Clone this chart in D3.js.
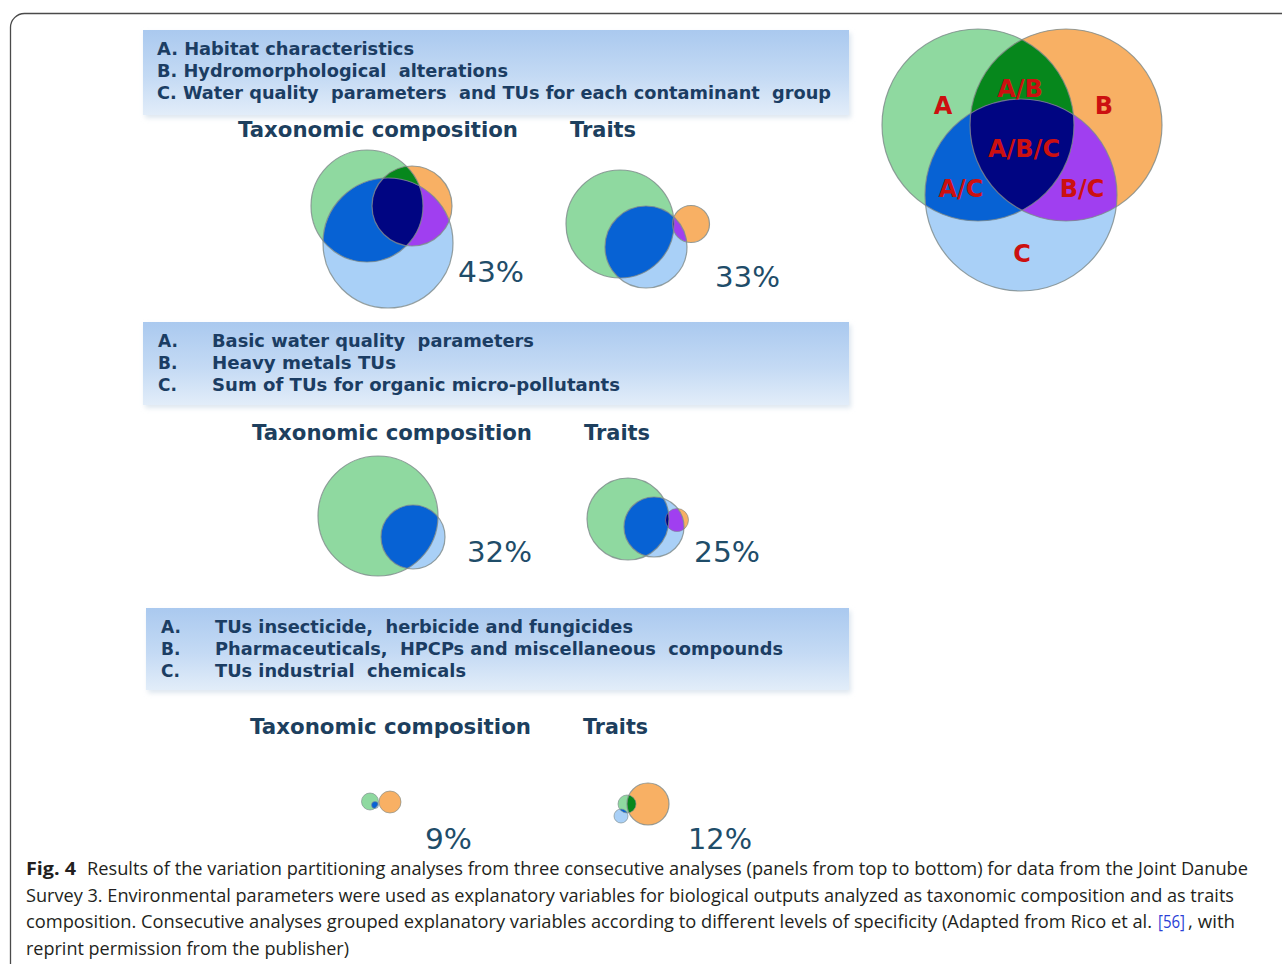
<!DOCTYPE html>
<html>
<head>
<meta charset="utf-8">
<script src="https://cdn.jsdelivr.net/npm/d3@7/dist/d3.min.js"></script>
<style>
  body { margin: 0; background: #fff; }
  svg { display: block; }
</style>
</head>
<body>
<svg id="fig"></svg>
<script>
    const svg_width = 1282;
    const svg_height = 964;

    // ---- data ----
    var setNames = ["A", "B", "C"];

    var panel1Legend = ["A. Habitat characteristics",
                        "B. Hydromorphological  alterations",
                        "C. Water quality  parameters  and TUs for each contaminant  group"];
    var letters = ["A.", "B.", "C."];
    var panel2Legend = ["Basic water quality  parameters",
                        "Heavy metals TUs",
                        "Sum of TUs for organic micro-pollutants"];
    var panel3Legend = ["TUs insecticide,  herbicide and fungicides",
                        "Pharmaceuticals,  HPCPs and miscellaneous  compounds",
                        "TUs industrial  chemicals"];
    var columnTitles = ["Taxonomic composition", "Traits"];
    var percentLabels = ["43%", "33%", "32%", "25%", "9%", "12%"];

    // circles of each diagram, local units (px) around the diagram origin
    var tax1Circles = [{set: "A", x: -13, y: -24, r: 56},
                       {set: "B", x: 32, y: -24, r: 40},
                       {set: "C", x: 8, y: 13, r: 65}];
    var traits1Circles = [{set: "A", x: -20, y: -6, r: 54},
                          {set: "B", x: 51, y: -6, r: 18.5},
                          {set: "C", x: 6, y: 17, r: 41}];
    var tax2Circles = [{set: "A", x: -12, y: -4, r: 60},
                       {set: "C", x: 23, y: 17, r: 32}];
    var traits2Circles = [{set: "A", x: -12, y: -1, r: 41},
                          {set: "B", x: 37, y: 0, r: 11.5},
                          {set: "C", x: 14, y: 7, r: 30}];
    var tax3Circles = [{set: "A", x: -10, y: 1.5, r: 8.5},
                       {set: "B", x: 10, y: 2, r: 11},
                       {set: "C", x: -5, y: 5, r: 3.5}];
    var traits3Circles = [{set: "A", x: -13, y: 4, r: 9},
                          {set: "B", x: 8, y: 4, r: 21},
                          {set: "C", x: -19, y: 16, r: 7}];
    var keyCircles = [{set: "A", x: -44, y: -25, r: 96},
                      {set: "B", x: 44, y: -25, r: 96},
                      {set: "C", x: -1, y: 45, r: 96}];
    var keyLabels = ["A", "A/B", "B", "A/B/C", "A/C", "B/C", "C"];

    var figLabel = "Fig. 4";
    var captionLines = [
      "Results of the variation partitioning analyses from three consecutive analyses (panels from top to bottom) for data from the Joint Danube",
      "Survey 3. Environmental parameters were used as explanatory variables for biological outputs analyzed as taxonomic composition and as traits",
      "composition. Consecutive analyses grouped explanatory variables according to different levels of specificity (Adapted from Rico et al.",
      "reprint permission from the publisher)"
    ];
    var citeRef = "[56]";
    var citeTail = ", with";

    // ---- colours ----
    var fill = {A: "#8fd9a0", B: "#f8b064", C: "#a9d0f7",
                AB: "#06871c", AC: "#0762d4", BC: "#a03ff0", ABC: "#000582"};
    var textBlue = "#1b3d63";

    // ---- layout ----
    var boxes = [{x: 143, y: 30, w: 706, h: 85, lines: panel1Legend, tx: 157, bx: null, base: 55,
                  widths: [257, 351, 674]},
                 {x: 143, y: 322, w: 706, h: 83, lines: panel2Legend, tx: 158, bx: 212, base: 347,
                  widths: [322, 184, 408]},
                 {x: 146, y: 608, w: 703, h: 82, lines: panel3Legend, tx: 161, bx: 215, base: 633,
                  widths: [418, 568, 251]}];
    var titleRows = [{y: 137, tax: [238, 280], traits: [570, 66]},
                     {y: 440, tax: [252, 280], traits: [584, 66]},
                     {y: 734, tax: [250, 281], traits: [583, 65]}];
    var diagrams = [{id: "t1", circles: tax1Circles, ox: 380, oy: 230, label: [458, 282, 66]},
                    {id: "r1", circles: traits1Circles, ox: 640, oy: 230, label: [715, 287, 65]},
                    {id: "t2", circles: tax2Circles, ox: 390, oy: 520, label: [467, 562, 65]},
                    {id: "r2", circles: traits2Circles, ox: 640, oy: 520, label: [694, 562, 66]},
                    {id: "t3", circles: tax3Circles, ox: 380, oy: 800, label: [425, 849, 47]},
                    {id: "r3", circles: traits3Circles, ox: 640, oy: 800, label: [688, 849, 64]},
                    {id: "key", circles: keyCircles, ox: 1022, oy: 150, label: null}];
    var keyLabelPos = [[-79, -44], [-2, -61], [82, -44], [2, -1], [-61, 39], [60, 39], [0, 104]];

    var svg = d3.select("svg#fig")
        .attr("width", svg_width)
        .attr("height", svg_height);

    var defs = svg.append("defs");
    var grad = defs.append("linearGradient")
        .attr("id", "boxfill")
        .attr("x1", 0).attr("y1", 0).attr("x2", 0).attr("y2", 1);
    grad.append("stop").attr("offset", "0%").attr("stop-color", "#aac9ef");
    grad.append("stop").attr("offset", "55%").attr("stop-color", "#c4daf4");
    grad.append("stop").attr("offset", "100%").attr("stop-color", "#e2edf9");

    var shadow = defs.append("filter").attr("id", "soft")
        .attr("x", "-5%").attr("y", "-10%").attr("width", "110%").attr("height", "130%");
    shadow.append("feGaussianBlur").attr("stdDeviation", 2.5);

    // frame of the figure
    svg.append("rect")
        .attr("x", 10.5).attr("y", 13.5)
        .attr("width", 1320).attr("height", 1000)
        .attr("rx", 14)
        .attr("fill", "none")
        .attr("stroke", "#4a4a4a")
        .attr("stroke-width", 1.3);

    // legend boxes
    boxes.forEach(function (b) {
      svg.append("rect")
          .attr("x", b.x + 2).attr("y", b.y + 3)
          .attr("width", b.w).attr("height", b.h)
          .attr("fill", "#dde6ef")
          .attr("filter", "url(#soft)");
      svg.append("rect")
          .attr("x", b.x).attr("y", b.y)
          .attr("width", b.w).attr("height", b.h)
          .attr("fill", "url(#boxfill)");

      b.lines.forEach(function (line, i) {
        var yy = b.base + i * 22;
        if (b.bx === null) {
          svg.append("text")
              .attr("x", b.tx).attr("y", yy)
              .attr("textLength", b.widths[i])
              .attr("lengthAdjust", "spacingAndGlyphs")
              .style("font", "bold 17px 'DejaVu Sans', Verdana, sans-serif")
              .style("white-space", "pre")
              .attr("fill", textBlue)
              .text(line);
        } else {
          svg.append("text")
              .attr("x", b.tx).attr("y", yy)
              .style("font", "bold 17px 'DejaVu Sans', Verdana, sans-serif")
              .attr("fill", textBlue)
              .text(letters[i]);
          svg.append("text")
              .attr("x", b.bx).attr("y", yy)
              .attr("textLength", b.widths[i])
              .attr("lengthAdjust", "spacingAndGlyphs")
              .style("font", "bold 17px 'DejaVu Sans', Verdana, sans-serif")
              .style("white-space", "pre")
              .attr("fill", textBlue)
              .text(line);
        }
      });
    });

    // column titles
    titleRows.forEach(function (t) {
      [t.tax, t.traits].forEach(function (pos, j) {
        svg.append("text")
            .attr("x", pos[0]).attr("y", t.y)
            .attr("textLength", pos[1])
            .attr("lengthAdjust", "spacingAndGlyphs")
            .style("font", "bold 21px 'DejaVu Sans', Verdana, sans-serif")
            .attr("fill", "#1d3f5e")
            .text(columnTitles[j]);
      });
    });

    // venn diagrams
    diagrams.forEach(function (d, k) {
      var xs = d3.scaleLinear().domain([-100, 100]).range([d.ox - 100, d.ox + 100]);
      var ys = d3.scaleLinear().domain([-100, 100]).range([d.oy - 100, d.oy + 100]);
      var rs = d3.scaleLinear().domain([0, 100]).range([0, 100]);
      draw_venn(d.id, d.circles, xs, ys, rs);

      if (d.label) {
        svg.append("text")
            .attr("x", d.label[0]).attr("y", d.label[1])
            .attr("textLength", d.label[2])
            .attr("lengthAdjust", "spacingAndGlyphs")
            .style("font", "28px 'DejaVu Sans', Verdana, sans-serif")
            .attr("fill", "#1f4d69")
            .text(percentLabels[k]);
      } else {
        keyLabels.forEach(function (lab, i) {
          svg.append("text")
              .attr("x", xs(keyLabelPos[i][0]))
              .attr("y", ys(keyLabelPos[i][1]))
              .attr("text-anchor", "middle")
              .attr("dominant-baseline", "central")
              .style("font", "bold 24px 'DejaVu Sans', Verdana, sans-serif")
              .attr("fill", "#cc1010")
              .text(lab);
        });
      }
    });

    function draw_venn(id, circles, xs, ys, rs) {
      var g = svg.append("g").attr("class", "venn-" + id);
      var c = {};
      circles.forEach(function (e) {
        c[e.set] = e;
        defs.append("clipPath")
            .attr("id", "clip-" + id + e.set)
          .append("circle")
            .attr("cx", xs(e.x)).attr("cy", ys(e.y)).attr("r", rs(e.r));
      });

      function disk(parent, e, color) {
        return parent.append("circle")
            .attr("cx", xs(e.x)).attr("cy", ys(e.y)).attr("r", rs(e.r))
            .attr("fill", color);
      }

      setNames.forEach(function (s) {
        if (c[s]) disk(g, c[s], fill[s]);
      });

      // pairwise overlaps
      [["B", "A", "AB"], ["C", "A", "AC"], ["C", "B", "BC"]].forEach(function (p) {
        if (c[p[0]] && c[p[1]]) {
          disk(g, c[p[0]], fill[p[2]])
              .attr("clip-path", "url(#clip-" + id + p[1] + ")");
        }
      });

      // triple overlap
      if (c.A && c.B && c.C) {
        disk(g.append("g").attr("clip-path", "url(#clip-" + id + "B)"), c.C, fill.ABC)
            .attr("clip-path", "url(#clip-" + id + "A)");
      }

      circles.forEach(function (e) {
        g.append("circle")
            .attr("cx", xs(e.x)).attr("cy", ys(e.y)).attr("r", rs(e.r))
            .attr("fill", "none")
            .attr("stroke", "#7d8a8a")
            .attr("stroke-opacity", 0.8)
            .attr("stroke-width", e.r > 15 ? 1.2 : 0.8);
      });
    }

    // caption, one text per run so the widths can be matched
    var capFont = "17.5px 'Liberation Sans Narrow', 'Open Sans', 'Noto Sans', sans-serif";
    var capRuns = [
      [{x: 26, w: 50, t: figLabel, bold: true}, {x: 87, w: 1161, t: captionLines[0]}],
      [{x: 26, w: 1208, t: captionLines[1]}],
      [{x: 26, w: 1126, t: captionLines[2]}, {x: 1158, w: 27, t: citeRef, color: "#2b3fd6"},
       {x: 1188, w: 47, t: citeTail}],
      [{x: 26, w: 323, t: captionLines[3]}]
    ];
    capRuns.forEach(function (runs, i) {
      runs.forEach(function (r) {
        svg.append("text")
            .attr("x", r.x).attr("y", 875 + i * 26.5)
            .attr("textLength", r.w)
            .attr("lengthAdjust", "spacingAndGlyphs")
            .style("font", capFont)
            .style("font-weight", r.bold ? "bold" : "normal")
            .attr("fill", r.color || "#231f20")
            .text(r.t);
      });
    });
</script>
</body>
</html>
